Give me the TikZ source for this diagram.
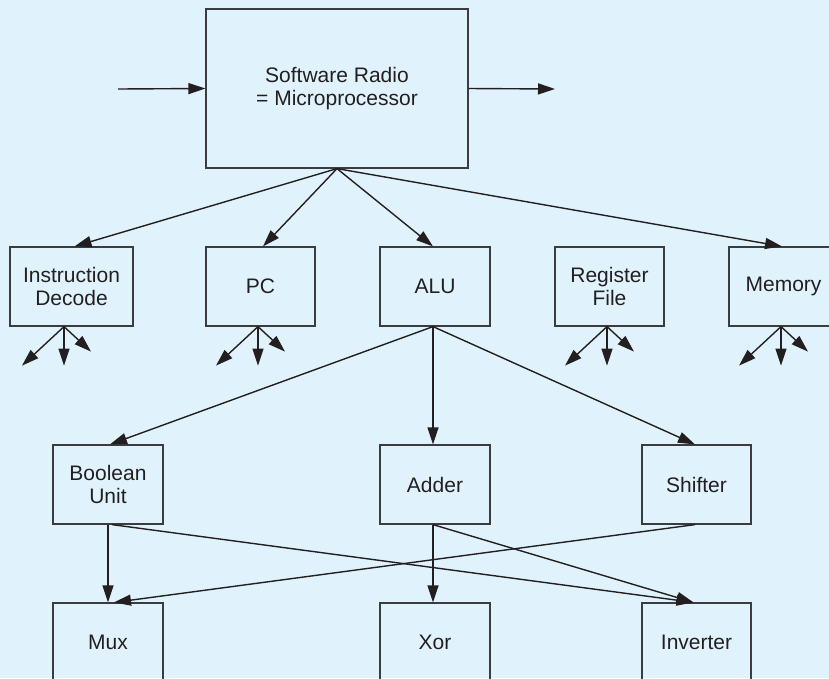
\documentclass[tikz,border=0pt]{standalone}
\usepackage{fontspec}
\setmainfont{Liberation Sans}
\usetikzlibrary{arrows.meta,calc}
\definecolor{bgblue}{RGB}{224,243,253}
\definecolor{ink}{RGB}{35,31,32}
\definecolor{boxline}{RGB}{60,60,62}
\begin{document}
\begin{tikzpicture}[x=1pt,y=-1pt,
  blk/.style={draw=boxline,line width=1.2pt,rectangle,minimum height=79pt,inner sep=0pt,
    align=center,text=ink,font=\fontsize{21}{23.5}\selectfont},
  arr/.style={draw=ink,line width=1.4pt,-{Triangle[length=17pt,width=11pt]}},
  ln/.style={draw=ink,line width=1.4pt}]
\useasboundingbox (0,0) rectangle (829,678);
\fill[bgblue] (0,0) rectangle (829,678);
\clip (0,0) rectangle (829,678);
% nodes
\node[blk,minimum width=262pt,minimum height=159pt] (main) at (337,88.5) {Software Radio\\= Microprocessor};
\node[blk,minimum width=123pt] (id) at (71.5,286.5) {Instruction\\Decode};
\node[blk,minimum width=109pt] (pc) at (260.5,286.5) {PC};
\node[blk,minimum width=110pt] (alu) at (435,286.5) {ALU};
\node[blk,minimum width=109pt] (rf) at (609.5,286.5) {Register\\File};
\node[blk,minimum width=109pt] (mem) at (783.5,286.5) {Memory};
\node[blk,minimum width=110pt] (bool) at (108,484.5) {Boolean\\Unit};
\node[blk,minimum width=110pt] (adder) at (435,484.5) {Adder};
\node[blk,minimum width=109pt] (shift) at (696.5,484.5) {Shifter};
\node[blk,minimum width=110pt] (mux) at (108,642.5) {Mux};
\node[blk,minimum width=110pt] (xor) at (435,642.5) {Xor};
\node[blk,minimum width=109pt] (inv) at (696.5,642.5) {Inverter};
% input / output
\coordinate (in) at (118,89);
\coordinate (out) at (555,89);
\draw[arr] (in) -- (main.west);
\draw[arr] (main.east) -- (out);
% fan out from main
\draw[arr] (main.south) -- ([xshift=3pt]id.north);
\draw[arr] (main.south) -- ([xshift=2.5pt]pc.north);
\draw[arr] (main.south) -- ([xshift=-2pt]alu.north);
\draw[arr] (main.south) -- ([xshift=-1.5pt]mem.north);
% small fans
\foreach \n/\dx in {id/-7.5,pc/-2.5,rf/-2.5,mem/-2.5}{
  \coordinate (\n o) at ([xshift=\dx pt]\n.south);
  \coordinate (\n l) at ($(\n o)+(-42,39)$);
  \coordinate (\n d) at ($(\n o)+(0,39)$);
  \coordinate (\n r) at ($(\n o)+(27,25)$);
  \draw[arr] (\n o) -- (\n l);
  \draw[arr] (\n o) -- (\n d);
  \draw[arr] (\n o) -- (\n r);
}
% ALU children
\draw[arr] ([xshift=-2pt]alu.south) -- ([xshift=2pt]bool.north);
\draw[arr] ([xshift=-2pt]alu.south) -- ([xshift=-2pt]adder.north);
\draw[arr] ([xshift=-2pt]alu.south) -- ([xshift=-1.5pt]shift.north);
% bottom layer
\draw[arr] (bool.south) -- (mux.north);
\draw[arr] ([xshift=4pt]bool.south) -- ([xshift=-3pt]inv.north);
\draw[arr] ([xshift=-2pt]adder.south) -- ([xshift=-2pt]xor.north);
\draw[arr] ([xshift=-2pt]adder.south) -- ([xshift=-3pt]inv.north);
\draw[arr] ([xshift=-1.5pt]shift.south) -- ([xshift=6pt]mux.north);
\end{tikzpicture}
\end{document}
